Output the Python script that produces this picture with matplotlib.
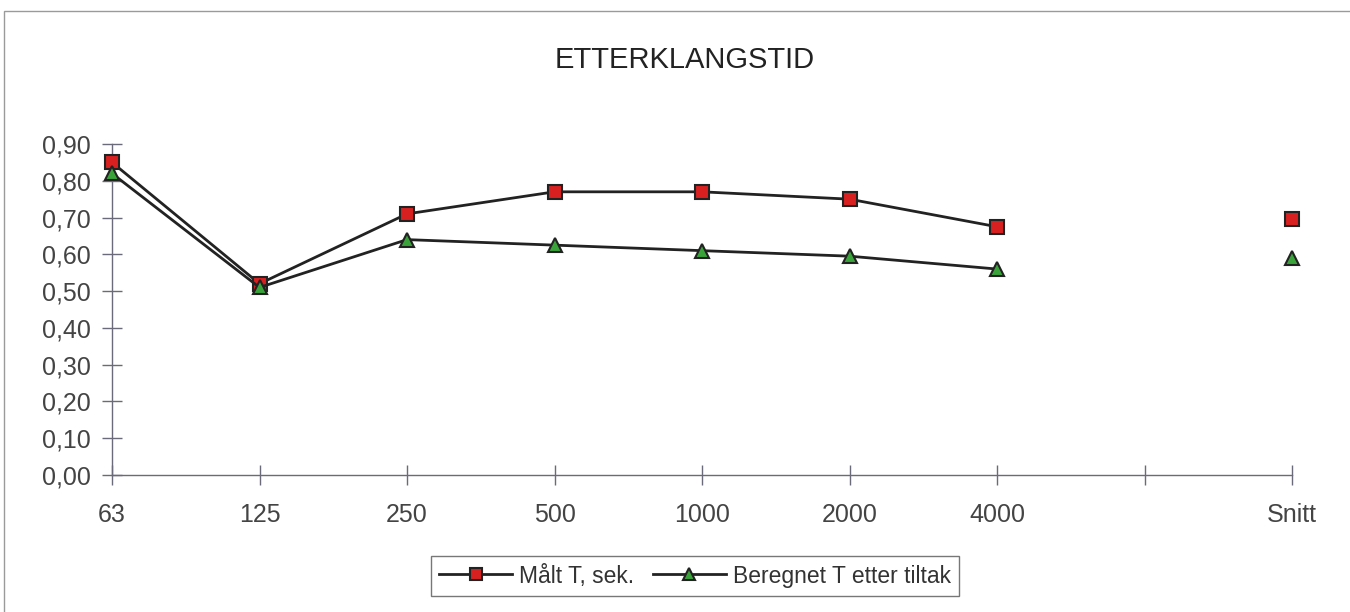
import matplotlib.pyplot as plt
import numpy as np
from matplotlib.patches import Rectangle

plt.rcParams['font.family'] = ['Liberation Sans', 'DejaVu Sans']

categories = ["63", "125", "250", "500", "1000", "2000", "4000", "", "Snitt"]
maalt      = [0.85, 0.52, 0.71, 0.77, 0.77, 0.75, 0.675, None, 0.695]
beregnet   = [0.82, 0.51, 0.64, 0.625, 0.61, 0.595, 0.56, None, 0.59]
yticks     = [0.0, 0.1, 0.2, 0.3, 0.4, 0.5, 0.6, 0.7, 0.8, 0.9]


def tonum(vals):
    return np.array([np.nan if v is None else v for v in vals], dtype=float)


fig = plt.figure(figsize=(13.5, 6.12), dpi=100)
# outer chart border
fig.patches.append(Rectangle((4 / 1350, -0.01), 1.02, 1 - 11 / 612 + 0.01,
                             transform=fig.transFigure, fill=False,
                             edgecolor='#9a9a9a', linewidth=1.0))

ax = fig.add_axes([112 / 1350, 1 - 475 / 612, (1292 - 112) / 1350, (475 - 144) / 612])
x = np.arange(len(categories))

ax.plot(x, tonum(maalt), color='#222222', linewidth=2, marker='s', markersize=10,
        markerfacecolor='#d92020', markeredgecolor='#222222', markeredgewidth=1.5,
        label='Målt T, sek.', zorder=3)
ax.plot(x, tonum(beregnet), color='#222222', linewidth=2, marker='^', markersize=10,
        markerfacecolor='#3aa33a', markeredgecolor='#222222', markeredgewidth=1.5,
        label='Beregnet T etter tiltak', zorder=3)

ax.set_xlim(0, len(categories) - 1)
ax.set_ylim(0, 0.9)
ax.set_yticks(yticks)
ax.set_yticklabels([f"{v:.2f}".replace('.', ',') for v in yticks])
ax.set_xticks(x)
ax.set_xticklabels(categories)

for s in ['top', 'right']:
    ax.spines[s].set_visible(False)
for s in ['left', 'bottom']:
    ax.spines[s].set_color('#6a6a7a')
    ax.spines[s].set_linewidth(1)
for line in ax.get_lines():
    line.set_clip_on(False)

ax.tick_params(axis='both', direction='inout', length=14, width=1, color='#6a6a7a',
               labelsize=18, labelcolor='#444444')
ax.tick_params(axis='y', pad=8)
ax.tick_params(axis='x', pad=13)

fig.text(685 / 1350, 1 - 60 / 612, 'ETTERKLANGSTID', ha='center', va='center',
         fontsize=21, color='#222222')

leg = fig.legend(loc='center', bbox_to_anchor=(695 / 1350, 1 - 576 / 612), ncol=2,
                 fontsize=16.5, frameon=True, fancybox=False, handlelength=3.2,
                 columnspacing=0.8, handletextpad=0.3, borderpad=0.35,
                 markerscale=0.85)
leg.get_frame().set_edgecolor('#555555')
leg.get_frame().set_linewidth(1)
for t in leg.get_texts():
    t.set_color('#333333')

fig.savefig('out.png', dpi=100)
